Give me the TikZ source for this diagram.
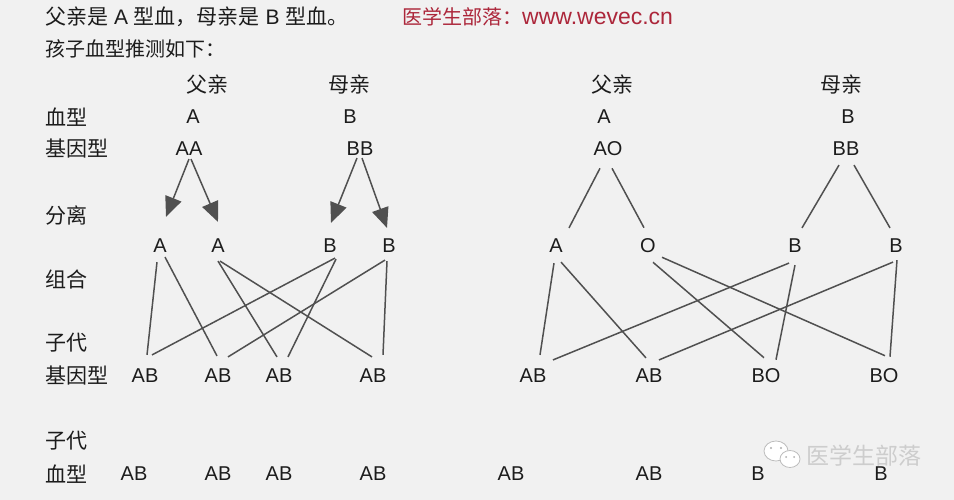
\documentclass[tikz,border=0pt]{standalone}
\usepackage{fontspec}
\setmainfont{Liberation Sans}
\newfontfamily\cjk{Noto Sans CJK SC}
\usetikzlibrary{arrows.meta,calc}
\definecolor{bg}{RGB}{241,241,241}
\definecolor{ln}{RGB}{80,80,80}
\definecolor{txt}{RGB}{28,28,28}
\definecolor{webred}{RGB}{172,38,58}
\definecolor{wm}{RGB}{205,205,205}
\tikzset{
  lab/.style={font=\cjk\fontsize{21}{24}\selectfont, anchor=west, inner sep=0pt, text=txt},
  head/.style={font=\cjk\fontsize{21}{24}\selectfont, inner sep=0pt, text=txt},
  let/.style={font=\fontsize{20}{24}\selectfont, inner sep=0pt, text=txt},
  conn/.style={draw=ln, line width=1.5pt},
  arr/.style={conn, -{Triangle[length=20pt,width=17pt]}, fill=ln},
}
\begin{document}
\begin{tikzpicture}[x=1pt,y=-1pt]
\fill[bg] (0,0) rectangle (954,500);
\useasboundingbox (0,0) rectangle (954,500);

% title lines
\node[lab, font=\fontsize{21}{24}\selectfont] (t1) at (45,17) {{\cjk 父亲是} A {\cjk 型血，母亲是} B {\cjk 型血。}};
\node[lab, font=\fontsize{20}{24}\selectfont, text=webred] (t2) at (402,17) {{\cjk\fontsize{20}{24}\selectfont 医学生部落：}{\fontsize{23}{24}\selectfont www.wevec.cn}};
\node[lab, font=\cjk\fontsize{20}{24}\selectfont] (t3) at (45,49) {孩子血型推测如下：};

% row labels
\node[lab] (r1) at (45,117) {血型};
\node[lab] (r2) at (45,149) {基因型};
\node[lab] (r3) at (45,215) {分离};
\node[lab] (r4) at (45,279) {组合};
\node[lab] (r5) at (45,343) {子代};
\node[lab] (r6) at (45,376) {基因型};
\node[lab] (r7) at (45,441) {子代};
\node[lab] (r8) at (45,474) {血型};

% headers
\node[head] (f1) at (207,85) {父亲};
\node[head] (m1) at (349,85) {母亲};
\node[head] (f2) at (612,85) {父亲};
\node[head] (m2) at (841,85) {母亲};

% left: blood types
\node[let] (pa) at (193,117) {A};
\node[let] (pb) at (350,117) {B};
\node[let] (AA) at (189,149) {AA};
\node[let] (BB) at (360,149) {BB};
\node[let] (a1) at (160,246) {A};
\node[let] (a2) at (218,246) {A};
\node[let] (b1) at (330,246) {B};
\node[let] (b2) at (389,246) {B};
\node[let] (g1) at (145,376) {AB};
\node[let] (g2) at (218,376) {AB};
\node[let] (g3) at (279,376) {AB};
\node[let] (g4) at (373,376) {AB};
\node[let] (k1) at (134,474) {AB};
\node[let] (k2) at (218,474) {AB};
\node[let] (k3) at (279,474) {AB};
\node[let] (k4) at (373,474) {AB};

% right
\node[let] (qa) at (604,117) {A};
\node[let] (qb) at (848,117) {B};
\node[let] (AO) at (608,149) {AO};
\node[let] (BB2) at (846,149) {BB};
\node[let] (ra) at (556,246) {A};
\node[let] (ro) at (648,246) {O};
\node[let] (rb1) at (795,246) {B};
\node[let] (rb2) at (896,246) {B};
\node[let] (h1) at (533,376) {AB};
\node[let] (h2) at (649,376) {AB};
\node[let] (h3) at (766,376) {BO};
\node[let] (h4) at (884,376) {BO};
\node[let] (u1) at (511,474) {AB};
\node[let] (u2) at (649,474) {AB};
\node[let] (u3) at (758,474) {B};
\node[let] (u4) at (881,474) {B};

% arrows (left)
\draw[arr] ($(AA.south)+(0,3)$) -- ($(a1.north)+(6,-22)$);
\draw[arr] ($(AA.south)+(2,3)$) -- ($(a2.north)+(0,-17)$);
\draw[arr] ($(BB.south)+(-3,2)$) -- ($(b1.north)+(1,-16)$);
\draw[arr] ($(BB.south)+(2,2)$) -- ($(b2.north)+(-2,-11)$);

% left combination lines
\draw[conn] ($(a1.south)+(-3,9)$) -- ($(g1.north)+(2,-14)$);
\draw[conn] ($(a1.south)+(5,4)$) -- ($(g2.north)+(-1,-13)$);
\draw[conn] ($(a2.south)+(0,8)$) -- ($(g3.north)+(-2,-12)$);
\draw[conn] ($(a2.south)+(2,8)$) -- ($(g4.north)+(-1,-12)$);
\draw[conn] ($(b1.south)+(5,5)$) -- ($(g1.north)+(7,-14)$);
\draw[conn] ($(b1.south)+(6,6)$) -- ($(g3.north)+(9,-12)$);
\draw[conn] ($(b2.south)+(-4,7)$) -- ($(g2.north)+(10,-12)$);
\draw[conn] ($(b2.south)+(-2,8)$) -- ($(g4.north)+(10,-14)$);

% right separation lines
\draw[conn] ($(AO.south)+(-8,12)$) -- ($(ra.north)+(13,-11)$);
\draw[conn] ($(AO.south)+(4,12)$) -- ($(ro.north)+(-4,-11)$);
\draw[conn] ($(BB2.south)+(-7,9)$) -- ($(rb1.north)+(7,-11)$);
\draw[conn] ($(BB2.south)+(8,9)$) -- ($(rb2.north)+(-6,-11)$);

% right combination lines
\draw[conn] ($(ra.south)+(-2,10)$) -- ($(h1.north)+(7,-14)$);
\draw[conn] ($(ra.south)+(5,9)$) -- ($(h2.north)+(-3,-11)$);
\draw[conn] ($(ro.south)+(5,9)$) -- ($(h3.north)+(-2,-11)$);
\draw[conn] ($(ro.south)+(14,4)$) -- ($(h4.north)+(1,-13)$);
\draw[conn] ($(rb1.south)+(-6,10)$) -- ($(h1.north)+(20,-9)$);
\draw[conn] ($(rb1.south)+(0,12)$) -- ($(h3.north)+(10,-9)$);
\draw[conn] ($(rb2.south)+(-3,9)$) -- ($(h2.north)+(10,-9)$);
\draw[conn] ($(rb2.south)+(1,7)$) -- ($(h4.north)+(6,-12)$);

% watermark
\draw[wm!80!gray, fill=white, line width=0.8pt] (776,451) ellipse [x radius=12, y radius=10];
\draw[wm!80!gray, fill=white, line width=0.8pt] (790,459) ellipse [x radius=10, y radius=8.5];
\fill[wm!60!gray] (771,448) circle (1.1) (781,448) circle (1.1) (786,457) circle (1) (794,457) circle (1);
\node[lab, font=\cjk\fontsize{23}{26}\selectfont, text=wm] (wt) at (806,456) {医学生部落};
\end{tikzpicture}
\end{document}
